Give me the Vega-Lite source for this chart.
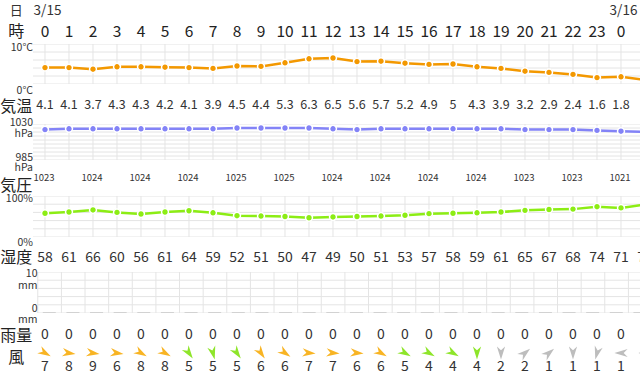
{
 "$schema": "https://vega.github.io/schema/vega-lite/v6.json",
 "padding": 0,
 "background": "#ffffff",
 "spacing": 0,
 "bounds": "flush",
 "config": {"view": {"stroke": null}, "font": "Noto Sans CJK JP", "text": {"color": "#333333", "font": "Noto Sans CJK JP"}},
 "datasets": {
  "w": [
   {"hour":0,"hl":"0","date":"3/15","t":4.1,"p":1023,"hum":58,"r":0,"wd":30,"ws":7},
   {"hour":1,"hl":"1","t":4.1,"p":1024,"hum":61,"r":0,"wd":8,"ws":8},
   {"hour":2,"hl":"2","t":3.7,"p":1024,"hum":66,"r":0,"wd":8,"ws":9},
   {"hour":3,"hl":"3","t":4.3,"p":1024,"hum":60,"r":0,"wd":8,"ws":6},
   {"hour":4,"hl":"4","t":4.3,"p":1024,"hum":56,"r":0,"wd":30,"ws":8},
   {"hour":5,"hl":"5","t":4.2,"p":1024,"hum":61,"r":0,"wd":30,"ws":8},
   {"hour":6,"hl":"6","t":4.1,"p":1024,"hum":64,"r":0,"wd":55,"ws":5},
   {"hour":7,"hl":"7","t":3.9,"p":1024,"hum":59,"r":0,"wd":75,"ws":5},
   {"hour":8,"hl":"8","t":4.5,"p":1025,"hum":52,"r":0,"wd":55,"ws":5},
   {"hour":9,"hl":"9","t":4.4,"p":1025,"hum":51,"r":0,"wd":55,"ws":6},
   {"hour":10,"hl":"10","t":5.3,"p":1025,"hum":50,"r":0,"wd":35,"ws":6},
   {"hour":11,"hl":"11","t":6.3,"p":1025,"hum":47,"r":0,"wd":5,"ws":7},
   {"hour":12,"hl":"12","t":6.5,"p":1024,"hum":49,"r":0,"wd":5,"ws":7},
   {"hour":13,"hl":"13","t":5.6,"p":1023,"hum":50,"r":0,"wd":5,"ws":6},
   {"hour":14,"hl":"14","t":5.7,"p":1024,"hum":51,"r":0,"wd":30,"ws":6},
   {"hour":15,"hl":"15","t":5.2,"p":1024,"hum":53,"r":0,"wd":30,"ws":5},
   {"hour":16,"hl":"16","t":4.9,"p":1024,"hum":57,"r":0,"wd":30,"ws":4},
   {"hour":17,"hl":"17","t":5,"p":1024,"hum":58,"r":0,"wd":30,"ws":4},
   {"hour":18,"hl":"18","t":4.3,"p":1024,"hum":59,"r":0,"wd":90,"ws":4},
   {"hour":19,"hl":"19","t":3.9,"p":1024,"hum":61,"r":0,"wd":90,"ws":2},
   {"hour":20,"hl":"20","t":3.2,"p":1023,"hum":65,"r":0,"wd":-40,"ws":2},
   {"hour":21,"hl":"21","t":2.9,"p":1023,"hum":67,"r":0,"wd":-40,"ws":1},
   {"hour":22,"hl":"22","t":2.4,"p":1023,"hum":68,"r":0,"wd":90,"ws":1},
   {"hour":23,"hl":"23","t":1.6,"p":1022,"hum":74,"r":0,"wd":105,"ws":1},
   {"hour":24,"hl":"0","date":"3/16","t":1.8,"p":1021,"hum":71,"r":0,"wd":180,"ws":1},
   {"hour":25,"hl":"1","t":1.0,"p":1020,"hum":79,"r":0,"wd":180,"ws":1}
  ]
 },
 "vconcat": [
  {
   "width": 640, "height": 22,
   "layer": [
    {"data": {"name": "w"}, "transform": [{"filter": "isValid(datum.date)"}],
     "mark": {"type": "text", "fontSize": 13.5, "dx": 2.5, "dy": 0, "color": "#333333", "clip": true},
     "encoding": {"x": {"field": "hour", "type": "quantitative", "scale": {"domain": [-1.875, 24.7917], "nice": false, "zero": false}, "axis": null}, "text": {"field": "date", "type": "nominal"}}},
    {"data": {"values": [{"s": "日"}]},
     "mark": {"type": "text", "fontSize": 13, "color": "#333333"},
     "encoding": {"x": {"datum": -1.2, "type": "quantitative"}, "text": {"field": "s", "type": "nominal"}}}
   ]
  },
  {
   "width": 640, "height": 22,
   "layer": [
    {"data": {"name": "w"},
     "mark": {"type": "text", "fontSize": 15.5, "dy": -1, "color": "#222222", "clip": true},
     "encoding": {"x": {"field": "hour", "type": "quantitative", "scale": {"domain": [-1.875, 24.7917], "nice": false, "zero": false}, "axis": null}, "text": {"field": "hl", "type": "nominal"}}},
    {"data": {"values": [{"s": "時"}]},
     "mark": {"type": "text", "fontSize": 16, "dy": -1, "color": "#222222"},
     "encoding": {"x": {"datum": -1.2, "type": "quantitative"}, "text": {"field": "s", "type": "nominal"}}}
   ]
  },
  {
   "width": 640, "height": 40,
   "layer": [
    {"data": {"values": [{"v":0},{"v":2},{"v":4},{"v":6},{"v":8},{"v":10}]},
     "mark": {"type": "rule", "color": "#e4e4e4", "strokeWidth": 1, "clip": true},
     "encoding": {"x": {"datum": -0.5, "type": "quantitative", "scale": {"domain": [-1.875, 24.7917], "nice": false, "zero": false}, "axis": null}, "x2": {"datum": 26}, "y": {"field": "v", "type": "quantitative", "scale": {"domain": [0, 10], "nice": false, "zero": false}, "axis": null}}},
    {"data": {"name": "w"},
     "mark": {"type": "rule", "color": "#e4e4e4", "strokeWidth": 1, "clip": true},
     "encoding": {"x": {"field": "hour", "type": "quantitative"}}},
    {"data": {"name": "w"},
     "mark": {"type": "line", "color": "#f39800", "strokeWidth": 2.5, "clip": true},
     "encoding": {"x": {"field": "hour", "type": "quantitative"}, "y": {"field": "t", "type": "quantitative"}}},
    {"data": {"name": "w"},
     "mark": {"type": "point", "filled": true, "fill": "#f39800", "stroke": "#ffffff", "strokeWidth": 1.5, "size": 48, "opacity": 1, "clip": true},
     "encoding": {"x": {"field": "hour", "type": "quantitative"}, "y": {"field": "t", "type": "quantitative"}}},
    {"data": {"values": [{"v": 10, "s": "10°C"}]},
     "mark": {"type": "text", "align": "right", "baseline": "middle", "dy": 3.5, "fontSize": 10.5, "color": "#333333"},
     "encoding": {"x": {"datum": -0.5, "type": "quantitative"}, "y": {"field": "v", "type": "quantitative"}, "text": {"field": "s", "type": "nominal"}}},
    {"data": {"values": [{"v": 0, "s": "0°C"}]},
     "mark": {"type": "text", "align": "right", "baseline": "middle", "dy": 7, "fontSize": 10.5, "color": "#333333"},
     "encoding": {"x": {"datum": -0.5, "type": "quantitative"}, "y": {"field": "v", "type": "quantitative"}, "text": {"field": "s", "type": "nominal"}}}
   ]
  },
  {
   "width": 640, "height": 40,
   "layer": [
    {"data": {"name": "w"},
     "mark": {"type": "text", "fontSize": 12.5, "dy": 1, "color": "#333333", "clip": true},
     "encoding": {"x": {"field": "hour", "type": "quantitative", "scale": {"domain": [-1.875, 24.7917], "nice": false, "zero": false}, "axis": null}, "text": {"field": "t", "type": "nominal"}}},
    {"data": {"values": [{"s": "気温"}]},
     "mark": {"type": "text", "fontSize": 16, "dy": 3, "color": "#222222"},
     "encoding": {"x": {"datum": -1.2, "type": "quantitative"}, "text": {"field": "s", "type": "nominal"}}}
   ]
  },
  {
   "width": 640, "height": 36,
   "layer": [
    {"data": {"values": [{"v":985},{"v":990},{"v":995},{"v":1000},{"v":1005},{"v":1010},{"v":1015},{"v":1020},{"v":1025},{"v":1030}]},
     "mark": {"type": "rule", "color": "#e4e4e4", "strokeWidth": 1, "clip": true},
     "encoding": {"x": {"datum": -0.5, "type": "quantitative", "scale": {"domain": [-1.875, 24.7917], "nice": false, "zero": false}, "axis": null}, "x2": {"datum": 26}, "y": {"field": "v", "type": "quantitative", "scale": {"domain": [985, 1030], "nice": false, "zero": false}, "axis": null}}},
    {"data": {"name": "w"},
     "mark": {"type": "rule", "color": "#e4e4e4", "strokeWidth": 1, "clip": true},
     "encoding": {"x": {"field": "hour", "type": "quantitative"}}},
    {"data": {"name": "w"},
     "mark": {"type": "line", "color": "#8383f7", "strokeWidth": 2.5, "clip": true},
     "encoding": {"x": {"field": "hour", "type": "quantitative"}, "y": {"field": "p", "type": "quantitative"}}},
    {"data": {"name": "w"},
     "mark": {"type": "point", "filled": true, "fill": "#8383f7", "stroke": "#ffffff", "strokeWidth": 1.5, "size": 48, "opacity": 1, "clip": true},
     "encoding": {"x": {"field": "hour", "type": "quantitative"}, "y": {"field": "p", "type": "quantitative"}}},
    {"data": {"values": [{"v": 1030, "s": "1030"}]},
     "mark": {"type": "text", "align": "right", "baseline": "middle", "dy": -1, "fontSize": 10.5, "color": "#333333"},
     "encoding": {"x": {"datum": -0.5, "type": "quantitative"}, "y": {"field": "v", "type": "quantitative"}, "text": {"field": "s", "type": "nominal"}}},
    {"data": {"values": [{"v": 1030, "s": "hPa"}]},
     "mark": {"type": "text", "align": "right", "baseline": "middle", "dy": 10, "fontSize": 10.5, "color": "#333333"},
     "encoding": {"x": {"datum": -0.5, "type": "quantitative"}, "y": {"field": "v", "type": "quantitative"}, "text": {"field": "s", "type": "nominal"}}},
    {"data": {"values": [{"v": 985, "s": "985"}]},
     "mark": {"type": "text", "align": "right", "baseline": "middle", "dy": -2.5, "fontSize": 10.5, "color": "#333333"},
     "encoding": {"x": {"datum": -0.5, "type": "quantitative"}, "y": {"field": "v", "type": "quantitative"}, "text": {"field": "s", "type": "nominal"}}},
    {"data": {"values": [{"v": 985, "s": "hPa"}]},
     "mark": {"type": "text", "align": "right", "baseline": "middle", "dy": 8, "fontSize": 10.5, "color": "#333333"},
     "encoding": {"x": {"datum": -0.5, "type": "quantitative"}, "y": {"field": "v", "type": "quantitative"}, "text": {"field": "s", "type": "nominal"}}}
   ]
  },
  {
   "width": 640, "height": 36,
   "layer": [
    {"data": {"name": "w"}, "transform": [{"filter": "datum.hour % 2 == 0"}],
     "mark": {"type": "text", "fontSize": 9.5, "dy": 0, "dx": -1, "color": "#333333", "clip": true},
     "encoding": {"x": {"field": "hour", "type": "quantitative", "scale": {"domain": [-1.875, 24.7917], "nice": false, "zero": false}, "axis": null}, "text": {"field": "p", "type": "nominal"}}},
    {"data": {"values": [{"s": "気圧"}]},
     "mark": {"type": "text", "fontSize": 16, "dy": 8, "color": "#222222"},
     "encoding": {"x": {"datum": -1.2, "type": "quantitative"}, "text": {"field": "s", "type": "nominal"}}}
   ]
  },
  {
   "width": 640, "height": 41,
   "layer": [
    {"data": {"values": [{"v":0},{"v":20},{"v":40},{"v":60},{"v":80},{"v":100}]},
     "mark": {"type": "rule", "color": "#e4e4e4", "strokeWidth": 1, "clip": true},
     "encoding": {"x": {"datum": -0.5, "type": "quantitative", "scale": {"domain": [-1.875, 24.7917], "nice": false, "zero": false}, "axis": null}, "x2": {"datum": 26}, "y": {"field": "v", "type": "quantitative", "scale": {"domain": [0, 100], "nice": false, "zero": false}, "axis": null}}},
    {"data": {"name": "w"},
     "mark": {"type": "rule", "color": "#e4e4e4", "strokeWidth": 1, "clip": true},
     "encoding": {"x": {"field": "hour", "type": "quantitative"}}},
    {"data": {"name": "w"},
     "mark": {"type": "line", "color": "#8ced14", "strokeWidth": 2.5, "clip": true},
     "encoding": {"x": {"field": "hour", "type": "quantitative"}, "y": {"field": "hum", "type": "quantitative"}}},
    {"data": {"name": "w"},
     "mark": {"type": "point", "filled": true, "fill": "#8ced14", "stroke": "#ffffff", "strokeWidth": 1.5, "size": 48, "opacity": 1, "clip": true},
     "encoding": {"x": {"field": "hour", "type": "quantitative"}, "y": {"field": "hum", "type": "quantitative"}}},
    {"data": {"values": [{"v": 100, "s": "100%"}]},
     "mark": {"type": "text", "align": "right", "baseline": "middle", "dy": 3, "fontSize": 10.5, "color": "#333333"},
     "encoding": {"x": {"datum": -0.5, "type": "quantitative"}, "y": {"field": "v", "type": "quantitative"}, "text": {"field": "s", "type": "nominal"}}},
    {"data": {"values": [{"v": 0, "s": "0%"}]},
     "mark": {"type": "text", "align": "right", "baseline": "middle", "dy": 6, "fontSize": 10.5, "color": "#333333"},
     "encoding": {"x": {"datum": -0.5, "type": "quantitative"}, "y": {"field": "v", "type": "quantitative"}, "text": {"field": "s", "type": "nominal"}}}
   ]
  },
  {
   "width": 640, "height": 35,
   "layer": [
    {"data": {"name": "w"},
     "mark": {"type": "text", "fontSize": 14, "dy": 3.5, "color": "#333333", "clip": true},
     "encoding": {"x": {"field": "hour", "type": "quantitative", "scale": {"domain": [-1.875, 24.7917], "nice": false, "zero": false}, "axis": null}, "text": {"field": "hum", "type": "nominal"}}},
    {"data": {"values": [{"s": "湿度"}]},
     "mark": {"type": "text", "fontSize": 16, "dy": 3, "color": "#222222"},
     "encoding": {"x": {"datum": -1.2, "type": "quantitative"}, "text": {"field": "s", "type": "nominal"}}}
   ]
  },
  {
   "width": 640, "height": 41,
   "layer": [
    {"data": {"values": [{"v":0},{"v":2},{"v":4},{"v":6},{"v":8},{"v":10}]},
     "mark": {"type": "rule", "color": "#e4e4e4", "strokeWidth": 1, "clip": true},
     "encoding": {"x": {"datum": -0.5, "type": "quantitative", "scale": {"domain": [-1.875, 24.7917], "nice": false, "zero": false}, "axis": null}, "x2": {"datum": 26}, "y": {"field": "v", "type": "quantitative", "scale": {"domain": [0, 10], "nice": false, "zero": false}, "axis": null}}},
    {"data": {"name": "w"},
     "mark": {"type": "rule", "color": "#e4e4e4", "strokeWidth": 1, "xOffset": -11.5, "clip": true},
     "encoding": {"x": {"field": "hour", "type": "quantitative"}}},
    {"data": {"name": "w"},
     "mark": {"type": "bar", "width": 13, "fill": "#d2d2d2", "stroke": "#d2d2d2", "strokeWidth": 2, "clip": true},
     "encoding": {"x": {"field": "hour", "type": "quantitative"}, "y": {"field": "r", "type": "quantitative"}, "y2": {"datum": 0}}},
    {"data": {"values": [{"v": 10, "s": "10"}]},
     "mark": {"type": "text", "align": "right", "baseline": "middle", "dy": 2, "fontSize": 10.5, "color": "#333333"},
     "encoding": {"x": {"datum": -0.5, "type": "quantitative"}, "y": {"field": "v", "type": "quantitative"}, "text": {"field": "s", "type": "nominal"}}},
    {"data": {"values": [{"v": 10, "s": "mm"}]},
     "mark": {"type": "text", "align": "right", "baseline": "middle", "dy": 13.5, "fontSize": 10.5, "color": "#333333"},
     "encoding": {"x": {"datum": -0.5, "type": "quantitative"}, "y": {"field": "v", "type": "quantitative"}, "text": {"field": "s", "type": "nominal"}}},
    {"data": {"values": [{"v": 0, "s": "0"}]},
     "mark": {"type": "text", "align": "right", "baseline": "middle", "dy": -4, "fontSize": 10.5, "color": "#333333"},
     "encoding": {"x": {"datum": -0.5, "type": "quantitative"}, "y": {"field": "v", "type": "quantitative"}, "text": {"field": "s", "type": "nominal"}}},
    {"data": {"values": [{"v": 0, "s": "mm"}]},
     "mark": {"type": "text", "align": "right", "baseline": "middle", "dy": 7, "fontSize": 10.5, "color": "#333333"},
     "encoding": {"x": {"datum": -0.5, "type": "quantitative"}, "y": {"field": "v", "type": "quantitative"}, "text": {"field": "s", "type": "nominal"}}}
   ]
  },
  {
   "width": 640, "height": 32,
   "layer": [
    {"data": {"name": "w"},
     "mark": {"type": "text", "fontSize": 14, "dy": 5.5, "color": "#333333", "clip": true},
     "encoding": {"x": {"field": "hour", "type": "quantitative", "scale": {"domain": [-1.875, 24.7917], "nice": false, "zero": false}, "axis": null}, "text": {"field": "r", "type": "nominal"}}},
    {"data": {"values": [{"s": "雨量"}]},
     "mark": {"type": "text", "fontSize": 16, "dy": 6.5, "color": "#222222"},
     "encoding": {"x": {"datum": -1.2, "type": "quantitative"}, "text": {"field": "s", "type": "nominal"}}}
   ]
  },
  {
   "width": 640, "height": 16,
   "layer": [
    {"data": {"name": "w"},
     "mark": {"type": "point", "shape": "M1,0L-1,-0.62L-0.4,0L-1,0.62Z", "filled": true, "size": 175, "opacity": 1, "clip": true},
     "encoding": {"x": {"field": "hour", "type": "quantitative", "scale": {"domain": [-1.875, 24.7917], "nice": false, "zero": false}, "axis": null},
                  "angle": {"field": "wd", "type": "quantitative", "scale": null},
                  "color": {"field": "ws", "type": "quantitative", "scale": {"type": "threshold", "domain": [3, 6], "range": ["#bdbdbd", "#8ee52a", "#f8b423"]}, "legend": null}}},
    {"data": {"values": [{"s": "風"}]},
     "mark": {"type": "text", "fontSize": 16, "dy": 5, "color": "#222222"},
     "encoding": {"x": {"datum": -1.2, "type": "quantitative"}, "text": {"field": "s", "type": "nominal"}}}
   ]
  },
  {
   "width": 640, "height": 15,
   "layer": [
    {"data": {"name": "w"},
     "mark": {"type": "text", "fontSize": 14, "dy": -1.5, "color": "#333333", "clip": true},
     "encoding": {"x": {"field": "hour", "type": "quantitative", "scale": {"domain": [-1.875, 24.7917], "nice": false, "zero": false}, "axis": null}, "text": {"field": "ws", "type": "nominal"}}}
   ]
  }
 ]
}
